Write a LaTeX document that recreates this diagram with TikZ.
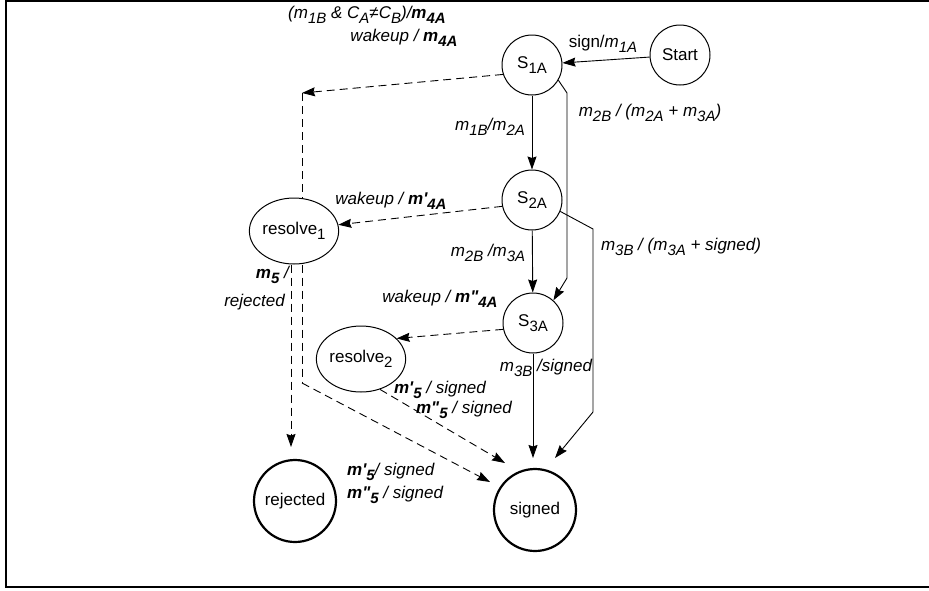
\documentclass[tikz,border=0pt]{standalone}
\usepackage{fontspec}
\setmainfont{Liberation Sans}
\newfontfamily\nq{Liberation Sans}
\usetikzlibrary{arrows.meta,shapes.geometric}
\newcommand\lo[1]{\raisebox{-0.3em}{\fontsize{15}{15}\selectfont #1}}
\newcommand\qs{{\nq'}}
\newcommand\qd{{\nq"}}
\begin{document}
\begin{tikzpicture}[x=1pt,y=-1pt,
  nfont/.style={font=\fontsize{17}{17}\selectfont},
  st/.style={draw,circle,line width=1pt,minimum size=60pt,inner sep=0pt,nfont},
  rs/.style={draw,ellipse,line width=1pt,minimum width=81pt,minimum height=66pt,inner sep=0pt,nfont},
  fin/.style={draw,circle,line width=2.2pt,minimum size=82pt,inner sep=0pt,nfont},
  arr/.style={line width=0.9pt,-{Stealth[length=13pt,width=9pt,inset=1.5pt]}},
  ln/.style={line width=0.9pt},
  dsh/.style={dash pattern=on 8pt off 5pt},
  lab/.style={inner sep=0pt,font=\fontsize{17}{17}\selectfont\itshape},
  frm/.style={line width=2pt}]
\useasboundingbox (0,0) rectangle (929,590);
\draw[frm] (929,1) -- (6,1) -- (6,587) -- (929,587);

% nodes
\node[st] (start) at (680,55) {Start};
\node[st] (s1a) at (532,65) {S\lo{1A}};
\node[st] (s2a) at (532,200) {S\lo{2A}};
\node[st] (s3a) at (533,323) {S\lo{3A}};
\node[rs] (res1) at (294,231) {resolve\lo{1}};
\node[rs] (res2) at (361,359) {resolve\lo{2}};
\node[fin] (rej) at (295,501) {rejected};
\node[fin] (sig) at (535,510) {signed};

% bend points and free ends
\coordinate (c1) at (302,93);
\coordinate (a1) at (567,93);
\coordinate (a2) at (567,278);
\coordinate (b1) at (593,229);
\coordinate (b2) at (593,412);
\coordinate (d1) at (302,383);
\coordinate (tS3) at (533,458);
\coordinate (tS2) at (555,458);
\coordinate (tR2) at (505,463);
\coordinate (tR1) at (490,482);
\coordinate (tRj) at (291,447);

% edges
\draw[arr] (start) -- (s1a);
\draw[arr,dsh] (s1a.198) -- (c1);
\draw[ln,dsh] (c1) -- (c1 |- res1.north);
\draw[arr] (s1a) -- (s2a);
\draw[arr] (s1a.-30) -- (a1) -- (a2) -- (s3a.48);
\draw[arr] (s2a) -- (s3a);
\draw[arr,dsh] (s2a.192) -- (res1.8);
\draw[arr] (s2a.-22) -- (b1) -- (b2) -- (tS2);
\draw[arr,dsh] (s3a.192) -- (res2.30);
\draw[arr] (s3a) -- (tS3);
\draw[arr,dsh] (res1.south -| tRj) -- (tRj);
\draw[ln,dsh] (res1.south -| d1) -- (d1);
\draw[arr,dsh] (d1) -- (tR1);
\draw[arr,dsh] (res2.-58) -- (tR2);

% labels
\node[lab] (l1) at (367,15) {(m\lo{1B} \& C\lo{A}≠C\lo{B})/\textbf{m\lo{4A}}};
\node[lab] (l2) at (404,38) {wakeup / \textbf{m\lo{4A}}};
\node[lab,font=\fontsize{17}{17}\selectfont] (l3) at (603,44) {sign/\textit{m\lo{1A}}};
\node[lab] (l4) at (490,127) {m\lo{1B}/m\lo{2A}};
\node[lab] (l5) at (650,113) {m\lo{2B} / (m\lo{2A} + m\lo{3A})};
\node[lab] (l6) at (391,201) {wakeup / \textbf{m\qs\lo{4A}}};
\node[lab] (l7) at (488,253) {m\lo{2B} /m\lo{3A}};
\node[lab] (l8) at (681,247) {m\lo{3B} / (m\lo{3A} + signed)};
\node[lab,anchor=east] (l9) at (289,275) {\textbf{m\lo{5}} /};
\node[lab,anchor=east] (l9b) at (285,302) {rejected};
\node[lab] (l10) at (440,299) {wakeup / \textbf{m\qd\lo{4A}}};
\node[lab] (l11) at (546,368) {m\lo{3B} /signed};
\node[lab] (l12) at (440,390) {\textbf{m\qs\lo{5}} / signed};
\node[lab] (l13) at (464,410) {\textbf{m\qd\lo{5}} / signed};
\node[lab,anchor=west] (l14) at (347,472) {\textbf{m\qs\lo{5}}/ signed};
\node[lab,anchor=west] (l15) at (347,495) {\textbf{m\qd\lo{5}} / signed};
\end{tikzpicture}
\end{document}
